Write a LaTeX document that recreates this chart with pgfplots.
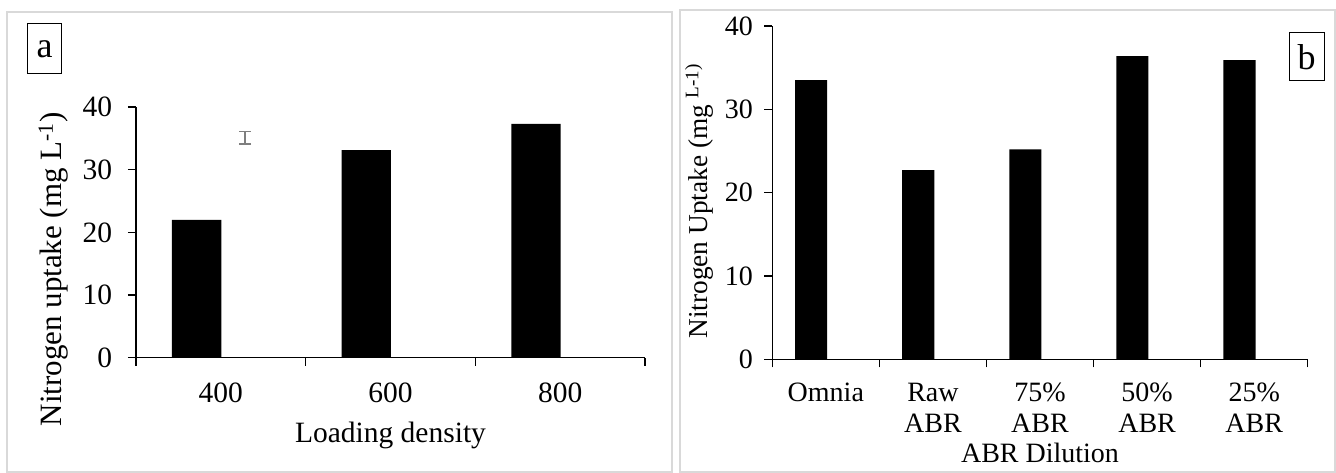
\documentclass[border=0pt]{standalone}
\usepackage{pgfplots}
\pgfplotsset{compat=1.18}
\usepackage{fontspec}
\setmainfont{Liberation Serif}
\definecolor{framegray}{HTML}{D9D9D9}
\definecolor{errgray}{HTML}{7F7F7F}

\begin{document}
\begin{tikzpicture}[x=1pt,y=1pt]
\path[use as bounding box] (0,0) rectangle (1336,473);
\draw[framegray, line width=1.5pt] (7,1) rectangle (672,461);
\draw[framegray, line width=1.5pt] (680,1) rectangle (1335,463);

\pgfplotsset{
  commonstyle/.style={
    scale only axis,
    anchor=origin,
    axis x line*=bottom, axis y line*=left,
    axis line style={-, black, line width=1.3pt},
    tick style={black, line width=1.3pt},
    tick align=outside, major tick length=8pt,
    ymin=0, ymax=40, ytick={0,10,20,30,40},
    /pgf/number format/assume math mode=true,
    x tick label as interval,
  }
}

% ---------- panel a ----------
\begin{axis}[
  commonstyle,
  at={(136pt,115.3pt)},
  width=509pt, height=250.7pt,
  xmin=0, xmax=3,
  xtick={0,1,2,3},
  xticklabels={400,600,800},
  tick label style={font=\fontsize{29.5}{34}\selectfont},
  xticklabel style={inner sep=0pt, anchor=north, yshift=-17pt},
  yticklabel style={inner sep=0pt, anchor=east, xshift=-15.7pt},
  xlabel={Loading density},
  every axis x label/.style={at={(axis description cs:0.5,-0.3402)}, anchor=base, font=\fontsize{29.5}{34}\selectfont},
  ylabel={Nitrogen uptake (mg L\textsuperscript{-1})},
  every axis y label/.style={at={(axis description cs:-0.1454,0.352)}, anchor=base, rotate=90, font=\fontsize{31}{35}\selectfont},
]
\addplot[ybar, bar width=0.291, bar shift=-0.1426, fill=black, draw=none]
  coordinates {(0.5,22.0) (1.5,33.1) (2.5,37.3)};
\addplot[errgray, line width=1.2pt, mark=none, forget plot,
  error bars/.cd, y dir=both, y explicit, error mark=-,
  error bar style={errgray, line width=1.2pt},
  error mark options={errgray, rotate=90, mark size=6pt, line width=1.2pt}]
  coordinates {(0.6426,35.1) +- (0,1.0)};
\end{axis}

% ---------- panel b ----------
\begin{axis}[
  commonstyle,
  at={(772.3pt,113.5pt)},
  width=535.4pt, height=333.5pt,
  xmin=0, xmax=5,
  xtick={0,1,2,3,4,5},
  xticklabels={Omnia,{Raw\\ABR},{75\%\\ABR},{50\%\\ABR},{25\%\\ABR}},
  tick label style={font=\fontsize{28}{31}\selectfont},
  xticklabel style={inner sep=0pt, anchor=north, align=center, yshift=-15.5pt},
  yticklabel style={inner sep=0pt, anchor=east, xshift=-11.3pt},
  xlabel={ABR Dilution},
  every axis x label/.style={at={(axis description cs:0.5,-0.3103)}, anchor=base, font=\fontsize{28}{31}\selectfont},
  ylabel={Nitrogen Uptake (mg \textsuperscript{L-1)}},
  every axis y label/.style={at={(axis description cs:-0.1214,0.475)}, anchor=base, rotate=90, font=\fontsize{27.3}{30}\selectfont},
]
\addplot[ybar, bar width=0.30, bar shift=-0.137, fill=black, draw=none]
  coordinates {(0.5,33.5) (1.5,22.7) (2.5,25.2) (3.5,36.4) (4.5,35.9)};
\end{axis}

% panel letters
\node[draw=black, line width=1pt, minimum width=34pt, minimum height=50pt, inner sep=0pt,
      font=\fontsize{36}{40}\selectfont] at (44.7,424) {a};
\node[draw=black, line width=1pt, minimum width=35pt, minimum height=48pt, inner sep=0pt,
      font=\fontsize{36}{40}\selectfont] at (1306.5,416) {b};
\end{tikzpicture}
\end{document}
